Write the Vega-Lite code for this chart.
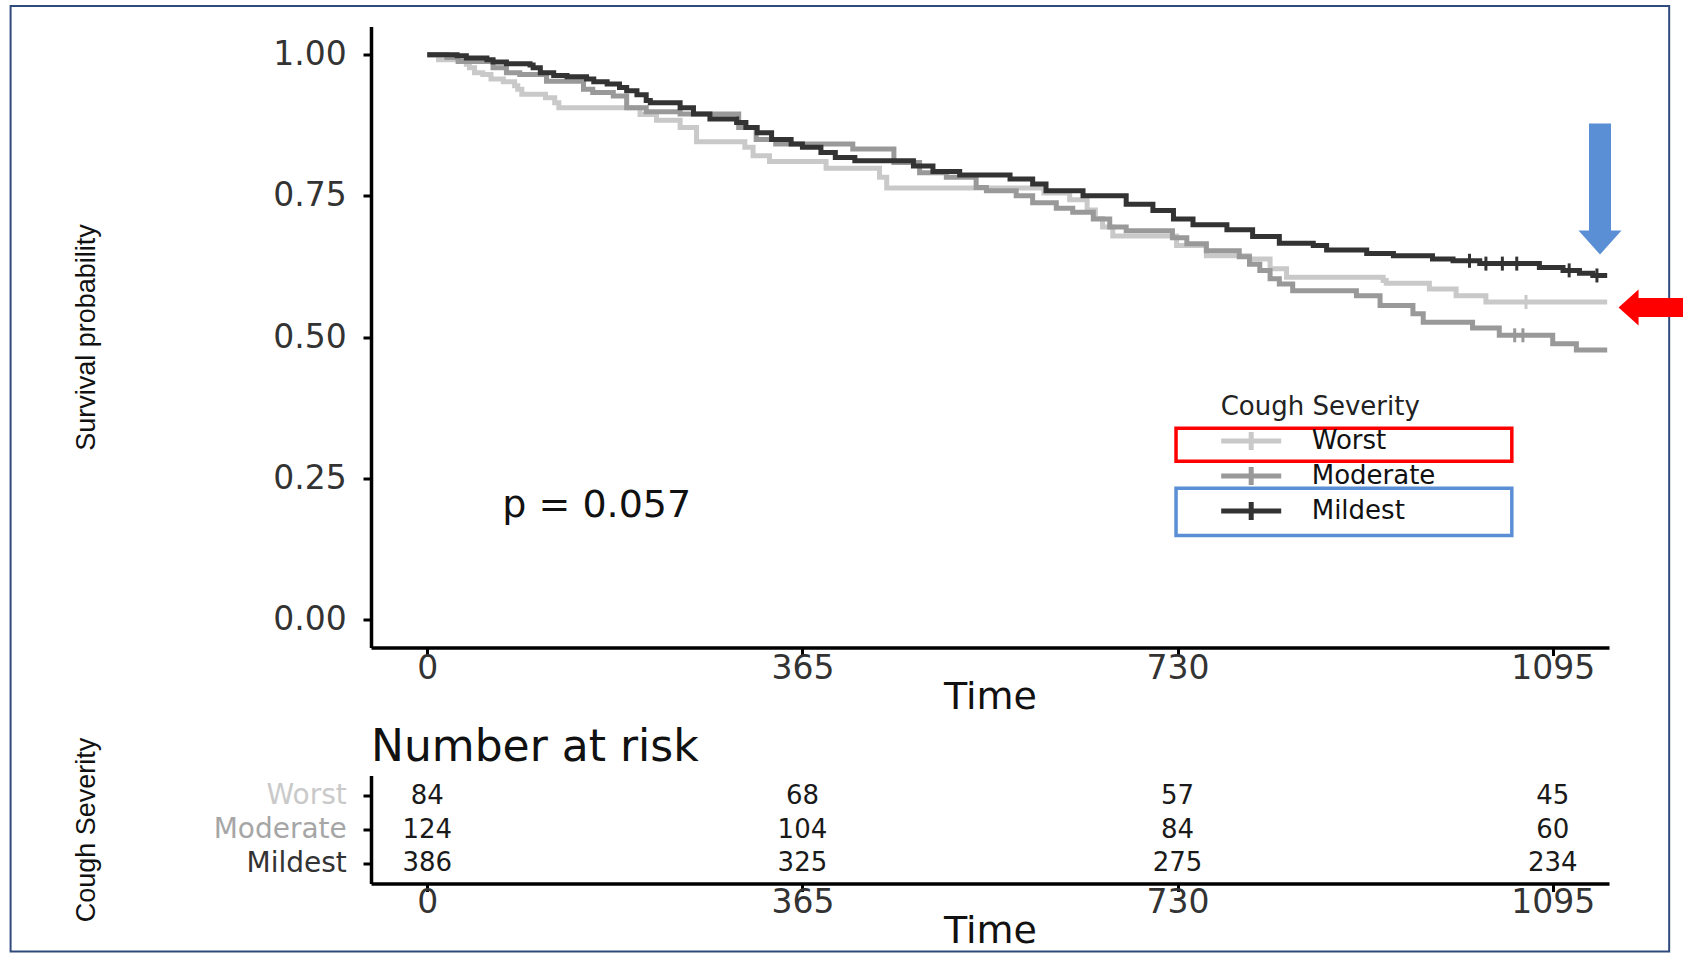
{
  "$schema": "https://vega.github.io/schema/vega-lite/v6.json",
  "background": "white",
  "padding": {"left": 9, "top": 4.5, "right": 0, "bottom": 0},
  "bounds": "flush",
  "spacing": 128,
  "config": {
    "view": {"stroke": null},
    "font": "DejaVu Sans",
    "axis": {
      "grid": false,
      "domainColor": "#000000",
      "domainWidth": 3.5,
      "tickColor": "#000000",
      "tickWidth": 3,
      "tickSize": 8,
      "labelFont": "DejaVu Sans",
      "labelFontSize": 33,
      "labelColor": "#333333",
      "titleFont": "DejaVu Sans",
      "titleFontWeight": "normal",
      "titleColor": "#111111"
    }
  },
  "vconcat": [
    {
      "width": 1238,
      "height": 621,
      "encoding": {
        "x": {
          "field": "t",
          "type": "quantitative",
          "scale": {"domain": [-54.75, 1149.75], "nice": false, "zero": false},
          "axis": {
            "values": [0, 365, 730, 1095],
            "format": "d",
            "title": "Time",
            "labelBaseline": "alphabetic",
            "labelPadding": 23,
            "labelFlush": false,
            "titleFontSize": 38,
            "titleBaseline": "alphabetic",
            "titleY": 61.4
          }
        },
        "y": {
          "field": "s",
          "type": "quantitative",
          "scale": {"domain": [-0.05, 1.05], "nice": false, "zero": false},
          "axis": {
            "values": [0, 0.25, 0.5, 0.75, 1],
            "format": ".2f",
            "title": "Survival probability",
            "labelPadding": 16.7,
            "titleFont": "Liberation Sans",
            "titleFontSize": 27,
            "titleX": -284.3,
            "titleY": 310.5,
            "titleAngle": 270,
            "titleBaseline": "middle",
            "titleAlign": "center"
          }
        }
      },
      "layer": [
        {
          "data": {"values": [{"t": -405.4, "t2": 1208.3, "s": 1.0863, "s2": -0.5886}]},
          "mark": {"type": "rect", "fillOpacity": 0, "stroke": "#2f4b7c", "strokeWidth": 2},
          "encoding": {"x2": {"field": "t2"}, "y2": {"field": "s2"}}
        },
        {
          "data": {"values": [
            {"group": "Worst", "t": 0, "s": 1.0},
            {"group": "Worst", "t": 11, "s": 0.991},
            {"group": "Worst", "t": 38, "s": 0.983},
            {"group": "Worst", "t": 41, "s": 0.977},
            {"group": "Worst", "t": 46, "s": 0.968},
            {"group": "Worst", "t": 54, "s": 0.965},
            {"group": "Worst", "t": 62, "s": 0.957},
            {"group": "Worst", "t": 74, "s": 0.952},
            {"group": "Worst", "t": 85, "s": 0.945},
            {"group": "Worst", "t": 88, "s": 0.939},
            {"group": "Worst", "t": 92, "s": 0.930},
            {"group": "Worst", "t": 115, "s": 0.924},
            {"group": "Worst", "t": 124, "s": 0.915},
            {"group": "Worst", "t": 128, "s": 0.906},
            {"group": "Worst", "t": 207, "s": 0.894},
            {"group": "Worst", "t": 223, "s": 0.884},
            {"group": "Worst", "t": 246, "s": 0.871},
            {"group": "Worst", "t": 262, "s": 0.846},
            {"group": "Worst", "t": 309, "s": 0.836},
            {"group": "Worst", "t": 317, "s": 0.821},
            {"group": "Worst", "t": 333, "s": 0.811},
            {"group": "Worst", "t": 388, "s": 0.799},
            {"group": "Worst", "t": 440, "s": 0.783},
            {"group": "Worst", "t": 447, "s": 0.764},
            {"group": "Worst", "t": 600, "s": 0.755},
            {"group": "Worst", "t": 625, "s": 0.743},
            {"group": "Worst", "t": 642, "s": 0.725},
            {"group": "Worst", "t": 650, "s": 0.710},
            {"group": "Worst", "t": 657, "s": 0.695},
            {"group": "Worst", "t": 667, "s": 0.679},
            {"group": "Worst", "t": 729, "s": 0.662},
            {"group": "Worst", "t": 758, "s": 0.644},
            {"group": "Worst", "t": 800, "s": 0.638},
            {"group": "Worst", "t": 820, "s": 0.621},
            {"group": "Worst", "t": 836, "s": 0.606},
            {"group": "Worst", "t": 930, "s": 0.600},
            {"group": "Worst", "t": 933, "s": 0.595},
            {"group": "Worst", "t": 975, "s": 0.585},
            {"group": "Worst", "t": 1001, "s": 0.573},
            {"group": "Worst", "t": 1030, "s": 0.562},
            {"group": "Worst", "t": 1148, "s": 0.562},
            {"group": "Moderate", "t": 0, "s": 1.0},
            {"group": "Moderate", "t": 19, "s": 0.995},
            {"group": "Moderate", "t": 30, "s": 0.988},
            {"group": "Moderate", "t": 64, "s": 0.977},
            {"group": "Moderate", "t": 77, "s": 0.968},
            {"group": "Moderate", "t": 90, "s": 0.965},
            {"group": "Moderate", "t": 116, "s": 0.953},
            {"group": "Moderate", "t": 152, "s": 0.939},
            {"group": "Moderate", "t": 161, "s": 0.933},
            {"group": "Moderate", "t": 181, "s": 0.927},
            {"group": "Moderate", "t": 194, "s": 0.906},
            {"group": "Moderate", "t": 213, "s": 0.899},
            {"group": "Moderate", "t": 246, "s": 0.895},
            {"group": "Moderate", "t": 303, "s": 0.871},
            {"group": "Moderate", "t": 320, "s": 0.850},
            {"group": "Moderate", "t": 339, "s": 0.842},
            {"group": "Moderate", "t": 414, "s": 0.833},
            {"group": "Moderate", "t": 454, "s": 0.809},
            {"group": "Moderate", "t": 479, "s": 0.791},
            {"group": "Moderate", "t": 505, "s": 0.783},
            {"group": "Moderate", "t": 534, "s": 0.765},
            {"group": "Moderate", "t": 544, "s": 0.759},
            {"group": "Moderate", "t": 573, "s": 0.750},
            {"group": "Moderate", "t": 589, "s": 0.738},
            {"group": "Moderate", "t": 612, "s": 0.728},
            {"group": "Moderate", "t": 628, "s": 0.721},
            {"group": "Moderate", "t": 648, "s": 0.709},
            {"group": "Moderate", "t": 664, "s": 0.695},
            {"group": "Moderate", "t": 680, "s": 0.688},
            {"group": "Moderate", "t": 725, "s": 0.676},
            {"group": "Moderate", "t": 739, "s": 0.665},
            {"group": "Moderate", "t": 758, "s": 0.653},
            {"group": "Moderate", "t": 790, "s": 0.642},
            {"group": "Moderate", "t": 800, "s": 0.629},
            {"group": "Moderate", "t": 810, "s": 0.618},
            {"group": "Moderate", "t": 820, "s": 0.603},
            {"group": "Moderate", "t": 829, "s": 0.594},
            {"group": "Moderate", "t": 842, "s": 0.582},
            {"group": "Moderate", "t": 904, "s": 0.573},
            {"group": "Moderate", "t": 927, "s": 0.556},
            {"group": "Moderate", "t": 959, "s": 0.541},
            {"group": "Moderate", "t": 969, "s": 0.526},
            {"group": "Moderate", "t": 1017, "s": 0.516},
            {"group": "Moderate", "t": 1043, "s": 0.503},
            {"group": "Moderate", "t": 1095, "s": 0.488},
            {"group": "Moderate", "t": 1118, "s": 0.477},
            {"group": "Moderate", "t": 1148, "s": 0.477},
            {"group": "Mildest", "t": 0, "s": 1.0},
            {"group": "Mildest", "t": 29, "s": 0.998},
            {"group": "Mildest", "t": 38, "s": 0.994},
            {"group": "Mildest", "t": 58, "s": 0.991},
            {"group": "Mildest", "t": 64, "s": 0.987},
            {"group": "Mildest", "t": 77, "s": 0.984},
            {"group": "Mildest", "t": 100, "s": 0.982},
            {"group": "Mildest", "t": 103, "s": 0.977},
            {"group": "Mildest", "t": 110, "s": 0.968},
            {"group": "Mildest", "t": 123, "s": 0.963},
            {"group": "Mildest", "t": 136, "s": 0.961},
            {"group": "Mildest", "t": 155, "s": 0.957},
            {"group": "Mildest", "t": 162, "s": 0.952},
            {"group": "Mildest", "t": 175, "s": 0.948},
            {"group": "Mildest", "t": 187, "s": 0.942},
            {"group": "Mildest", "t": 194, "s": 0.936},
            {"group": "Mildest", "t": 204, "s": 0.929},
            {"group": "Mildest", "t": 213, "s": 0.919},
            {"group": "Mildest", "t": 217, "s": 0.915},
            {"group": "Mildest", "t": 246, "s": 0.906},
            {"group": "Mildest", "t": 259, "s": 0.895},
            {"group": "Mildest", "t": 275, "s": 0.886},
            {"group": "Mildest", "t": 301, "s": 0.880},
            {"group": "Mildest", "t": 310, "s": 0.871},
            {"group": "Mildest", "t": 321, "s": 0.862},
            {"group": "Mildest", "t": 335, "s": 0.850},
            {"group": "Mildest", "t": 354, "s": 0.842},
            {"group": "Mildest", "t": 365, "s": 0.836},
            {"group": "Mildest", "t": 383, "s": 0.827},
            {"group": "Mildest", "t": 397, "s": 0.818},
            {"group": "Mildest", "t": 416, "s": 0.812},
            {"group": "Mildest", "t": 473, "s": 0.803},
            {"group": "Mildest", "t": 492, "s": 0.793},
            {"group": "Mildest", "t": 518, "s": 0.787},
            {"group": "Mildest", "t": 567, "s": 0.780},
            {"group": "Mildest", "t": 589, "s": 0.771},
            {"group": "Mildest", "t": 602, "s": 0.759},
            {"group": "Mildest", "t": 638, "s": 0.750},
            {"group": "Mildest", "t": 680, "s": 0.735},
            {"group": "Mildest", "t": 706, "s": 0.724},
            {"group": "Mildest", "t": 726, "s": 0.709},
            {"group": "Mildest", "t": 745, "s": 0.699},
            {"group": "Mildest", "t": 778, "s": 0.690},
            {"group": "Mildest", "t": 803, "s": 0.678},
            {"group": "Mildest", "t": 829, "s": 0.666},
            {"group": "Mildest", "t": 862, "s": 0.662},
            {"group": "Mildest", "t": 875, "s": 0.654},
            {"group": "Mildest", "t": 914, "s": 0.648},
            {"group": "Mildest", "t": 940, "s": 0.644},
            {"group": "Mildest", "t": 978, "s": 0.638},
            {"group": "Mildest", "t": 998, "s": 0.635},
            {"group": "Mildest", "t": 1024, "s": 0.630},
            {"group": "Mildest", "t": 1082, "s": 0.623},
            {"group": "Mildest", "t": 1105, "s": 0.618},
            {"group": "Mildest", "t": 1121, "s": 0.613},
            {"group": "Mildest", "t": 1134, "s": 0.609},
            {"group": "Mildest", "t": 1148, "s": 0.609}
          ]},
          "mark": {"type": "line", "interpolate": "step-after", "strokeWidth": 5},
          "encoding": {
            "color": {
              "field": "group",
              "type": "nominal",
              "scale": {"domain": ["Worst", "Moderate", "Mildest"], "range": ["#c9c9c9", "#999999", "#333333"]},
              "legend": {
                "orient": "none",
                "legendX": 849.7,
                "legendY": 367,
                "title": "Cough Severity",
                "titleLimit": 0,
                "titleFont": "DejaVu Sans",
                "titleFontSize": 26,
                "titleFontWeight": "normal",
                "titleColor": "#222222",
                "titlePadding": 6,
                "labelFont": "DejaVu Sans",
                "labelFontSize": 26,
                "labelColor": "#111111",
                "labelLimit": 0,
                "symbolType": "M-1.154,0L3.462,0M1.154,-0.7L1.154,0.7",
                "symbolSize": 676,
                "symbolStrokeWidth": 5,
                "symbolFillColor": "transparent",
                "labelOffset": 60,
                "rowPadding": -4.4,
                "padding": 0
              }
            }
          }
        },
        {
          "data": {"values": [
            {"group": "Worst", "t": 1069, "s": 0.562},
            {"group": "Moderate", "t": 1058, "s": 0.503},
            {"group": "Moderate", "t": 1066, "s": 0.503},
            {"group": "Mildest", "t": 1014, "s": 0.635},
            {"group": "Mildest", "t": 1030, "s": 0.630},
            {"group": "Mildest", "t": 1046, "s": 0.630},
            {"group": "Mildest", "t": 1060, "s": 0.630},
            {"group": "Mildest", "t": 1111, "s": 0.618},
            {"group": "Mildest", "t": 1138, "s": 0.609}
          ]},
          "mark": {"type": "point", "shape": "M0,-1L0,1", "size": 196, "strokeWidth": 3, "filled": false, "opacity": 1},
          "encoding": {"color": {"field": "group", "type": "nominal"}}
        },
        {
          "data": {"values": [{"t": 73, "s": 0.2, "label": "p = 0.057"}]},
          "mark": {"type": "text", "align": "left", "baseline": "middle", "font": "DejaVu Sans", "fontSize": 38, "color": "#111111"},
          "encoding": {"text": {"field": "label"}}
        },
        {
          "data": {"values": [{"t": 728.5, "t2": 1055.2, "s": 0.3384, "s2": 0.2799}]},
          "mark": {"type": "rect", "fillOpacity": 0, "stroke": "#ff0000", "strokeWidth": 3.5},
          "encoding": {"x2": {"field": "t2"}, "y2": {"field": "s2"}}
        },
        {
          "data": {"values": [{"t": 728.5, "t2": 1055.2, "s": 0.2321, "s2": 0.1483}]},
          "mark": {"type": "rect", "fillOpacity": 0, "stroke": "#5b8fd5", "strokeWidth": 3.5},
          "encoding": {"x2": {"field": "t2"}, "y2": {"field": "s2"}}
        },
        {
          "data": {"values": [{"t": 1141, "s": 0.6886}]},
          "mark": {"type": "point", "shape": "M-0.512,-4.977L0.512,-4.977L0.512,0L1,0L0,1.12L-1,0L-0.512,0Z", "size": 1849, "filled": true, "color": "#5b8fd5", "opacity": 1, "strokeWidth": 0}
        },
        {
          "data": {"values": [{"t": 1178.5, "s": 0.5522}]},
          "mark": {"type": "point", "shape": "M-1.111,0L0,-1L0,-0.528L3.8,-0.528L3.8,0.528L0,0.528L0,1Z", "size": 1296, "filled": true, "color": "#ff0000", "opacity": 1, "strokeWidth": 0}
        }
      ]
    },
    {
      "width": 1238,
      "height": 108,
      "title": {
        "text": "Number at risk",
        "anchor": "start",
        "frame": "group",
        "font": "DejaVu Sans",
        "fontSize": 44,
        "fontWeight": "normal",
        "color": "#111111",
        "baseline": "alphabetic",
        "offset": 17,
        "dy": 85
      },
      "data": {"values": [
        {"group": "Worst", "t": 0, "n": 84},
        {"group": "Worst", "t": 365, "n": 68},
        {"group": "Worst", "t": 730, "n": 57},
        {"group": "Worst", "t": 1095, "n": 45},
        {"group": "Moderate", "t": 0, "n": 124},
        {"group": "Moderate", "t": 365, "n": 104},
        {"group": "Moderate", "t": 730, "n": 84},
        {"group": "Moderate", "t": 1095, "n": 60},
        {"group": "Mildest", "t": 0, "n": 386},
        {"group": "Mildest", "t": 365, "n": 325},
        {"group": "Mildest", "t": 730, "n": 275},
        {"group": "Mildest", "t": 1095, "n": 234}
      ]},
      "mark": {"type": "text", "font": "DejaVu Sans", "fontSize": 26, "color": "#1a1a1a", "baseline": "middle", "align": "center"},
      "encoding": {
        "x": {
          "field": "t",
          "type": "quantitative",
          "scale": {"domain": [-54.75, 1149.75], "nice": false, "zero": false},
          "axis": {
            "values": [0, 365, 730, 1095],
            "format": "d",
            "title": "Time",
            "labelBaseline": "alphabetic",
            "labelPadding": 21,
            "labelFlush": false,
            "titleFontSize": 38,
            "titleBaseline": "alphabetic",
            "titleY": 59
          }
        },
        "y": {
          "field": "group",
          "type": "nominal",
          "sort": ["Worst", "Moderate", "Mildest"],
          "scale": {"type": "point", "padding": 0.6},
          "axis": {
            "title": "Cough Severity",
            "labelPadding": 16.7,
            "labelFontSize": 28,
            "labelColor": {
              "condition": [
                {"test": "datum.value == 'Worst'", "value": "#c9c9c9"},
                {"test": "datum.value == 'Moderate'", "value": "#a6a6a6"}
              ],
              "value": "#333333"
            },
            "titleFont": "Liberation Sans",
            "titleFontSize": 27,
            "titleX": -284.3,
            "titleY": 54,
            "titleAngle": 270,
            "titleBaseline": "middle",
            "titleAlign": "center"
          }
        },
        "text": {"field": "n", "type": "quantitative"}
      }
    }
  ]
}
